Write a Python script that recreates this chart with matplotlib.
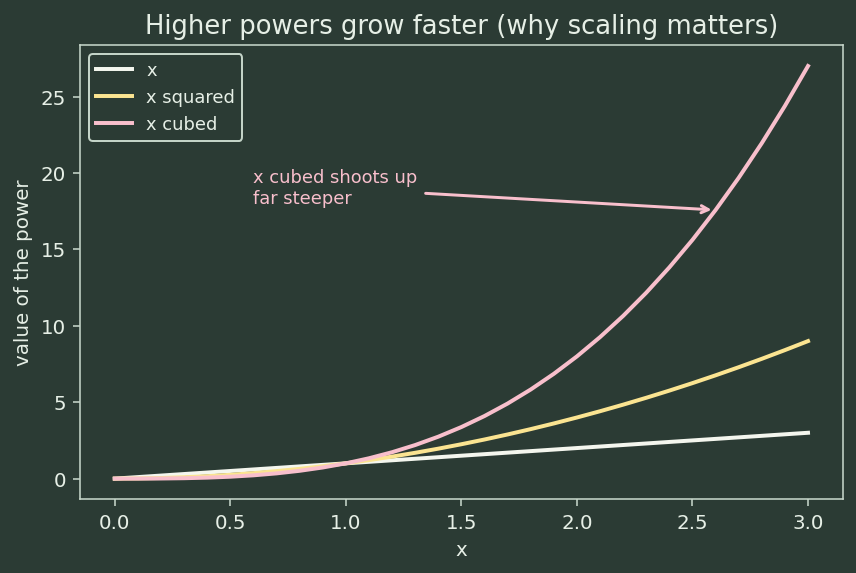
import matplotlib
matplotlib.use("Agg")
import matplotlib.pyplot as plt

# valores
x = [0.0, 0.1, 0.2, 0.3, 0.4, 0.5, 0.6, 0.7, 0.8, 0.9, 1.0,
     1.1, 1.2, 1.3, 1.4, 1.5, 1.6, 1.7, 1.8, 1.9, 2.0,
     2.1, 2.2, 2.3, 2.4, 2.5, 2.6, 2.7, 2.8, 2.9, 3.0]
y_x = [0.0, 0.1, 0.2, 0.3, 0.4, 0.5, 0.6, 0.7, 0.8, 0.9, 1.0,
       1.1, 1.2, 1.3, 1.4, 1.5, 1.6, 1.7, 1.8, 1.9, 2.0,
       2.1, 2.2, 2.3, 2.4, 2.5, 2.6, 2.7, 2.8, 2.9, 3.0]
y_quadrado = [0.0, 0.01, 0.04, 0.09, 0.16, 0.25, 0.36, 0.49, 0.64, 0.81, 1.0,
              1.21, 1.44, 1.69, 1.96, 2.25, 2.56, 2.89, 3.24, 3.61, 4.0,
              4.41, 4.84, 5.29, 5.76, 6.25, 6.76, 7.29, 7.84, 8.41, 9.0]
y_cubo = [0.0, 0.001, 0.008, 0.027, 0.064, 0.125, 0.216, 0.343, 0.512, 0.729, 1.0,
          1.331, 1.728, 2.197, 2.744, 3.375, 4.096, 4.913, 5.832, 6.859, 8.0,
          9.261, 10.648, 12.167, 13.824, 15.625, 17.576, 19.683, 21.952, 24.389, 27.0]
nomes = ["x", "x squared", "x cubed"]

fundo = "#2b3b34"
texto = "#e6efe6"
borda = "#c5d5c9"
cores = ["#f4f6ee", "#fbe491", "#f8bfcc"]

plt.rcParams.update({
    "figure.facecolor": fundo,
    "axes.facecolor": fundo,
    "axes.edgecolor": borda,
    "axes.labelcolor": texto,
    "text.color": texto,
    "xtick.color": borda,
    "ytick.color": borda,
    "xtick.labelcolor": texto,
    "ytick.labelcolor": texto,
})

fig, ax = plt.subplots(figsize=(5.99, 4.01), dpi=143)

for serie, nome, cor in zip([y_x, y_quadrado, y_cubo], nomes, cores):
    ax.plot(x, serie, color=cor, linewidth=2, label=nome)

ax.annotate("x cubed shoots up\nfar steeper", xy=(2.6, 17.576), xytext=(0.6, 18),
            color=cores[2], fontsize=9,
            arrowprops=dict(arrowstyle="->", color=cores[2], lw=1.5))

ax.set_title("Higher powers grow faster (why scaling matters)", fontsize=13, color=texto)
ax.set_xlabel("x")
ax.set_ylabel("value of the power")

leg = ax.legend(loc="upper left", fontsize=9, facecolor=fundo, edgecolor=borda, framealpha=1)
for t in leg.get_texts():
    t.set_color(texto)

plt.tight_layout(pad=0.7)
plt.savefig("out.png", facecolor=fundo)
